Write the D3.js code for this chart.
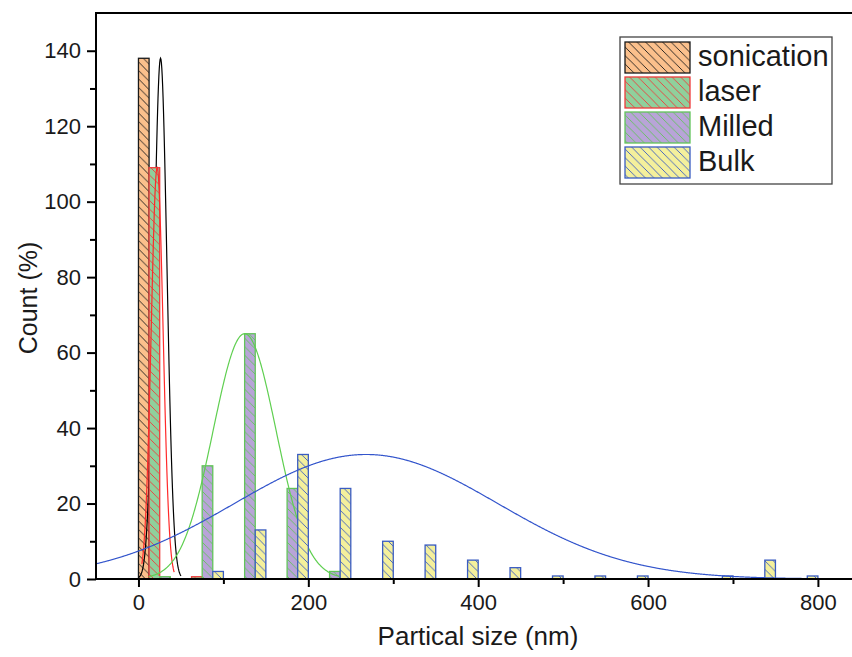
<!DOCTYPE html>
<html>
<head>
<meta charset="utf-8">
<script src="https://cdn.jsdelivr.net/npm/d3@7"></script>
<style>
  html, body { margin: 0; padding: 0; background: #fff; }
  svg { display: block; }
  text { font-family: "Liberation Sans", Arial, sans-serif; fill: #1a1a1a; }
</style>
</head>
<body>
<svg id="chart" width="852" height="657"></svg>
<script>
// ---------------- data ----------------
const groupStarts = [0, 50, 100, 150, 200, 250, 300, 350, 400, 450, 500, 550, 600, 650, 700, 750];
const sonication = [138, 0, 0, 0, 0, 0, 0, 0, 0, 0, 0, 0, 0, 0, 0, 0];
const laser      = [109, 0.6, 0, 0, 0, 0, 0, 0, 0, 0, 0, 0, 0, 0, 0, 0];
const milled     = [0.6, 30, 65, 24, 2, 0, 0, 0, 0, 0, 0, 0, 0, 0, 0, 0];
const bulk       = [0, 2, 13, 33, 24, 10, 9, 5, 3, 0.8, 0.8, 0.8, 0, 0.8, 5, 0.8];
const seriesNames = ["sonication", "laser", "Milled", "Bulk"];
const binWidth = 12.5;   // width of each series' bar within a 50-nm group

// Gaussian fit parameters: [amplitude, centre, sigma, xFrom, xTo]
const fitSonication = [138, 26, 7.5, 0, 50];
const fitLaser      = [109, 22, 7, 4, 42];
const fitMilled     = [65, 125, 37, 12, 236];
const fitBulk       = [33, 268, 155, -50, 850];

const xTicksMajor = [0, 200, 400, 600, 800];
const xTicksMinor = [100, 300, 500, 700];
const yTicksMajor = [0, 20, 40, 60, 80, 100, 120, 140];
const yTicksMinor = [10, 30, 50, 70, 90, 110, 130];

// ---------------- styles ----------------
const fills   = ["#fbc08c", "#8fd09c", "#b8a4d8", "#f4f09c"];
const strokes = ["#1a1a1a", "#ee3b3b", "#62c45a", "#3a5cc2"];
const curveColors = ["#000000", "#ff2a2a", "#5fcf50", "#3355cc"];

// ---------------- layout ----------------
const svg = d3.select("#chart");
const mLeft = 96, mTop = 13, mBottom = 579;
const x = d3.scaleLinear().domain([-50, 850]).range([mLeft, mLeft + 900 * 0.8493]);
const y = d3.scaleLinear().domain([0, 150]).range([mBottom, mTop]);

// patterns
const defs = svg.append("defs");
const hs = 8.5;
fills.forEach((f, i) => {
  const p = defs.append("pattern")
    .attr("id", "hatch" + i)
    .attr("patternUnits", "userSpaceOnUse")
    .attr("width", hs).attr("height", hs);
  p.append("rect").attr("width", hs).attr("height", hs).attr("fill", f);
  p.append("path")
    .attr("d", `M0,0 L${hs},${hs} M${-1},${hs - 1} L1,${hs + 1} M${hs - 1},-1 L${hs + 1},1`)
    .attr("stroke", strokes[i]).attr("stroke-width", 0.9);
});

const clip = defs.append("clipPath").attr("id", "plotClip");
clip.append("rect").attr("x", mLeft).attr("y", mTop).attr("width", 900).attr("height", mBottom - mTop);

const plot = svg.append("g").attr("clip-path", "url(#plotClip)");

const allSeries = [sonication, laser, milled, bulk];
const fits = [fitSonication, fitLaser, fitMilled, fitBulk];

function gauss(p, v) { return p[0] * Math.exp(-((v - p[1]) ** 2) / (2 * p[2] * p[2])); }
const line = d3.line().x(d => x(d[0])).y(d => y(d[1]));

allSeries.forEach((vals, si) => {
  const data = groupStarts.map((g, gi) => ({ x0: g + si * binWidth, v: vals[gi] })).filter(d => d.v > 0);
  plot.append("g").selectAll("rect").data(data).join("rect")
    .attr("x", d => x(d.x0))
    .attr("width", d => x(d.x0 + binWidth) - x(d.x0))
    .attr("y", d => y(d.v))
    .attr("height", d => y(0) - y(d.v))
    .attr("fill", `url(#hatch${si})`)
    .attr("stroke", strokes[si])
    .attr("stroke-width", 1.3);
  const p = fits[si];
  const pts = d3.range(p[3], p[4] + 0.001, 0.5).map(v => [v, gauss(p, v)]);
  plot.append("path").datum(pts)
    .attr("d", line)
    .attr("fill", "none")
    .attr("stroke", curveColors[si])
    .attr("stroke-width", 1.2);
});

// ---------------- axes ----------------
const axisG = svg.append("g");
axisG.append("line").attr("x1", mLeft).attr("x2", 852).attr("y1", mTop).attr("y2", mTop)
  .attr("stroke", "#000").attr("stroke-width", 2);
axisG.append("line").attr("x1", mLeft).attr("x2", mLeft).attr("y1", mTop - 1).attr("y2", mBottom + 1)
  .attr("stroke", "#000").attr("stroke-width", 2);
axisG.append("line").attr("x1", mLeft - 1).attr("x2", 852).attr("y1", mBottom).attr("y2", mBottom)
  .attr("stroke", "#000").attr("stroke-width", 2);

const fontFam = '"Liberation Sans", Arial, sans-serif';
// x ticks
const xg = svg.append("g").attr("transform", `translate(0,${mBottom})`)
  .call(d3.axisBottom(x).tickValues(xTicksMajor).tickSize(8).tickPadding(7));
xg.select(".domain").remove();
xg.selectAll(".tick line").attr("stroke", "#000").attr("stroke-width", 2);
xg.selectAll(".tick text").attr("font-size", 22).attr("font-family", fontFam).attr("fill", "#1a1a1a");
const xgm = svg.append("g").attr("transform", `translate(0,${mBottom})`)
  .call(d3.axisBottom(x).tickValues(xTicksMinor).tickSize(5).tickFormat(""));
xgm.select(".domain").remove();
xgm.selectAll(".tick line").attr("stroke", "#000").attr("stroke-width", 2);

// y ticks
const yg = svg.append("g").attr("transform", `translate(${mLeft},0)`)
  .call(d3.axisLeft(y).tickValues(yTicksMajor).tickSize(9).tickPadding(6));
yg.select(".domain").remove();
yg.selectAll(".tick line").attr("stroke", "#000").attr("stroke-width", 2);
yg.selectAll(".tick text").attr("font-size", 22).attr("font-family", fontFam).attr("fill", "#1a1a1a");
const ygm = svg.append("g").attr("transform", `translate(${mLeft},0)`)
  .call(d3.axisLeft(y).tickValues(yTicksMinor).tickSize(6).tickFormat(""));
ygm.select(".domain").remove();
ygm.selectAll(".tick line").attr("stroke", "#000").attr("stroke-width", 2);

// axis titles
svg.append("text").attr("x", 478).attr("y", 645).attr("text-anchor", "middle")
  .attr("font-size", 26).text("Partical size (nm)");
svg.append("text").attr("transform", "translate(37,298) rotate(-90)").attr("text-anchor", "middle")
  .attr("font-size", 25).text("Count (%)");

// ---------------- legend ----------------
const lg = svg.append("g");
lg.append("rect").attr("x", 620).attr("y", 37).attr("width", 212).attr("height", 147)
  .attr("fill", "#fff").attr("stroke", "#444").attr("stroke-width", 1.3);
seriesNames.forEach((name, i) => {
  lg.append("rect").attr("x", 625).attr("y", 42 + i * 35).attr("width", 65).attr("height", 31)
    .attr("fill", `url(#hatch${i})`).attr("stroke", strokes[i]).attr("stroke-width", 1.3);
  lg.append("text").attr("x", 698).attr("y", 66 + i * 35).attr("font-size", 29).text(name);
});
</script>
</body>
</html>
